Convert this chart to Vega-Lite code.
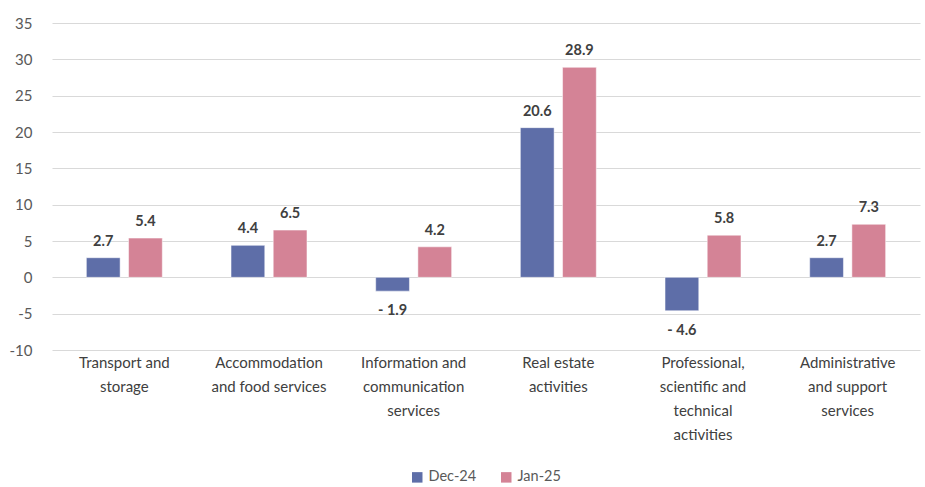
{
  "$schema": "https://vega.github.io/schema/vega-lite/v6.json",
  "width": 868,
  "height": 327,
  "autosize": {"type": "none"},
  "padding": {"left": 52, "top": 23, "right": 5, "bottom": 137},
  "background": "white",
  "config": {"font": "Lato", "view": {"stroke": null}},
  "data": {
    "values": [
      {"category": "Transport and|storage", "series": "Dec-24", "value": 2.7, "label": "2.7"},
      {"category": "Transport and|storage", "series": "Jan-25", "value": 5.4, "label": "5.4"},
      {"category": "Accommodation|and food services", "series": "Dec-24", "value": 4.4, "label": "4.4"},
      {"category": "Accommodation|and food services", "series": "Jan-25", "value": 6.5, "label": "6.5"},
      {"category": "Information and|communication|services", "series": "Dec-24", "value": -1.9, "label": "- 1.9"},
      {"category": "Information and|communication|services", "series": "Jan-25", "value": 4.2, "label": "4.2"},
      {"category": "Real estate|activities", "series": "Dec-24", "value": 20.6, "label": "20.6"},
      {"category": "Real estate|activities", "series": "Jan-25", "value": 28.9, "label": "28.9"},
      {"category": "Professional,|scientific and|technical|activities", "series": "Dec-24", "value": -4.6, "label": "- 4.6"},
      {"category": "Professional,|scientific and|technical|activities", "series": "Jan-25", "value": 5.8, "label": "5.8"},
      {"category": "Administrative|and support|services", "series": "Dec-24", "value": 2.7, "label": "2.7"},
      {"category": "Administrative|and support|services", "series": "Jan-25", "value": 7.3, "label": "7.3"}
    ]
  },
  "encoding": {
    "x": {
      "field": "category",
      "type": "nominal",
      "sort": null,
      "scale": {"paddingInner": 0.475, "paddingOuter": 0.2375},
      "axis": {
        "title": null,
        "labelAngle": 0,
        "labelExpr": "split(datum.label, '|')",
        "labelLineHeight": 24,
        "labelFontSize": 15,
        "labelColor": "#404040",
        "labelPadding": 5,
        "labelBaseline": "top",
        "domain": false,
        "ticks": false,
        "grid": false
      }
    },
    "xOffset": {"field": "series", "sort": ["Dec-24", "Jan-25"], "scale": {"paddingInner": 0.2}},
    "y": {
      "field": "value",
      "type": "quantitative",
      "scale": {"domain": [-10, 35], "nice": false, "zero": false},
      "axis": {
        "title": null,
        "values": [-10, -5, 0, 5, 10, 15, 20, 25, 30, 35],
        "labelExpr": "'' + datum.value",
        "labelFontSize": 15,
        "labelColor": "#595959",
        "labelPadding": 20,
        "domain": false,
        "ticks": false,
        "grid": true,
        "gridColor": "#d9d9d9",
        "gridWidth": 1
      }
    }
  },
  "layer": [
    {
      "mark": {"type": "bar", "stroke": "white", "strokeWidth": 0.5},
      "encoding": {
        "color": {
          "field": "series",
          "type": "nominal",
          "sort": ["Dec-24", "Jan-25"],
          "scale": {"domain": ["Dec-24", "Jan-25"], "range": ["#5E6EA8", "#D48396"]},
          "legend": {
            "title": null,
            "orient": "none",
            "direction": "horizontal",
            "legendX": 358,
            "legendY": 447,
            "symbolType": "square",
            "symbolSize": 110,
            "symbolStrokeWidth": 0,
            "labelFontSize": 14.5,
            "labelColor": "#595959",
            "labelOffset": 4,
            "labelLimit": 200,
            "columnPadding": 22
          }
        }
      }
    },
    {
      "transform": [{"filter": "datum.value >= 0"}],
      "mark": {"type": "text", "baseline": "bottom", "dy": -9, "fontWeight": "bold", "fontSize": 14.5, "color": "#404040"},
      "encoding": {"text": {"field": "label"}}
    },
    {
      "transform": [{"filter": "datum.value < 0"}],
      "mark": {"type": "text", "baseline": "top", "dy": 13, "fontWeight": "bold", "fontSize": 14.5, "color": "#404040"},
      "encoding": {"text": {"field": "label"}}
    }
  ]
}
